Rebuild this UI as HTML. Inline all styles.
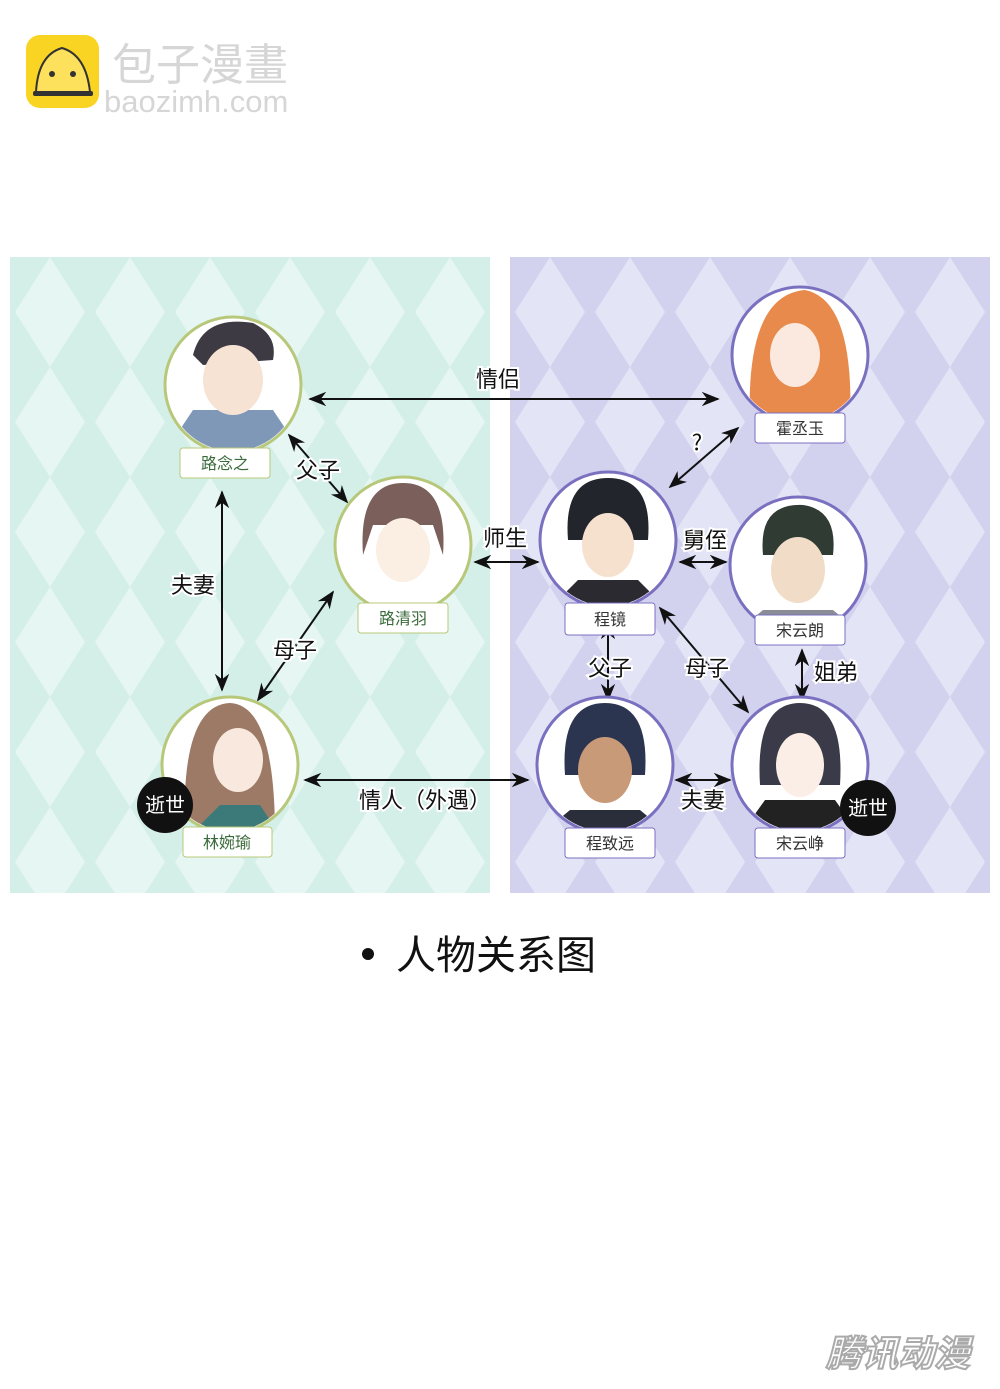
<!DOCTYPE html>
<html><head><meta charset="utf-8"><style>
body{margin:0;background:#fff;width:1000px;height:1389px;overflow:hidden;font-family:"Liberation Sans","Noto Sans CJK SC",sans-serif}
</style></head><body>
<svg width="1000" height="1389" xmlns="http://www.w3.org/2000/svg" style="display:block">
<defs>
<pattern id="pg" x="10" y="257" width="80" height="110" patternUnits="userSpaceOnUse">
<rect width="80" height="110" fill="#d4efe8"/>
<polygon points="40,0 75,55 40,110 5,55" fill="#e6f6f2"/>
</pattern>
<pattern id="pp" x="510" y="257" width="80" height="110" patternUnits="userSpaceOnUse">
<rect width="80" height="110" fill="#d2d2ef"/>
<polygon points="40,0 75,55 40,110 5,55" fill="#e4e4f7"/>
</pattern>
<marker id="a" viewBox="0 0 10 10" refX="9" refY="5" markerWidth="9" markerHeight="9" orient="auto-start-reverse"><path d="M0,1 L10,5 L0,9 L3,5z" fill="#111"/></marker>
<clipPath id="c"><circle r="66"/></clipPath>
</defs>
<!-- logo -->
<rect x="26" y="35" width="73" height="73" rx="14" fill="#f9d423"/>
<path d="M36,92 Q38,55 62,48 Q86,55 90,92 Z" fill="#fde15c" stroke="#333" stroke-width="2"/>
<rect x="33" y="91" width="60" height="5" rx="2" fill="#333"/>
<circle cx="52" cy="74" r="3" fill="#333"/><circle cx="73" cy="74" r="3" fill="#333"/>
<text x="112" y="80" font-size="44" fill="#d6d6d6" font-family="'Noto Sans CJK SC',sans-serif">包子漫畫</text>
<text x="104" y="112" font-size="31" fill="#d6d6d6">baozimh.com</text>
<!-- panels -->
<rect x="10" y="257" width="480" height="636" fill="url(#pg)"/>
<rect x="510" y="257" width="480" height="636" fill="url(#pp)"/>
<!-- arrows -->
<g stroke="#111" stroke-width="2" fill="none" marker-start="url(#a)" marker-end="url(#a)">
<line x1="310" y1="399" x2="718" y2="399"/>
<line x1="670" y1="487" x2="738" y2="428"/>
<line x1="289" y1="435" x2="347" y2="502"/>
<line x1="222" y1="492" x2="222" y2="690"/>
<line x1="258" y1="700" x2="333" y2="592"/>
<line x1="475" y1="562" x2="538" y2="562"/>
<line x1="680" y1="562" x2="726" y2="562"/>
<line x1="608" y1="623" x2="608" y2="700"/>
<line x1="660" y1="608" x2="748" y2="712"/>
<line x1="802" y1="650" x2="802" y2="700"/>
<line x1="305" y1="780" x2="528" y2="780"/>
<line x1="676" y1="780" x2="730" y2="780"/>
</g>
<!-- relation labels -->
<g font-size="22" fill="#111" stroke="#fff" stroke-width="4" paint-order="stroke" text-anchor="middle" font-family="'Noto Sans CJK SC',sans-serif">
<text x="498" y="387">情侣</text>
<text x="697" y="450">?</text>
<text x="318" y="478">父子</text>
<text x="193" y="593">夫妻</text>
<text x="295" y="658">母子</text>
<text x="505" y="546">师生</text>
<text x="705" y="548">舅侄</text>
<text x="610" y="676">父子</text>
<text x="707" y="676">母子</text>
<text x="836" y="680">姐弟</text>
<text x="425" y="808">情人（外遇）</text>
<text x="703" y="808">夫妻</text>
</g>
<!-- nodes -->
<g font-size="16" text-anchor="middle" font-family="'Noto Sans CJK SC',sans-serif">
<g transform="translate(233,385)"><circle r="68" fill="#fff" stroke="#b8c87a" stroke-width="3"/><g clip-path="url(#c)"><path d="M-40,-30 Q-30,-70 20,-62 Q45,-50 40,-25 L-30,-20z" fill="#3e3a44"/><path d="M-70,70 L-40,25 L40,25 L70,70z" fill="#7f98b8"/><ellipse cx="0" cy="-5" rx="30" ry="35" fill="#f6e3d3"/></g></g>
<rect x="180" y="448" width="90" height="30" rx="3" fill="#fff" stroke="#b8c87a"/><text x="225" y="469" fill="#3a6a3a">路念之</text>
<g transform="translate(403,545)"><circle r="68" fill="#fff" stroke="#b8c87a" stroke-width="3"/><g clip-path="url(#c)"><path d="M-40,10 Q-45,-62 0,-62 Q45,-62 40,10 L30,-20 L-30,-20z" fill="#7a5f5a"/><ellipse cx="0" cy="5" rx="27" ry="32" fill="#fbeee3"/></g></g>
<rect x="358" y="603" width="90" height="30" rx="3" fill="#fff" stroke="#b8c87a"/><text x="403" y="624" fill="#3a6a3a">路清羽</text>
<g transform="translate(230,765)"><circle r="68" fill="#fff" stroke="#b8c87a" stroke-width="3"/><g clip-path="url(#c)"><path d="M-45,70 Q-50,-60 0,-62 Q45,-60 45,70z" fill="#9c7a66"/><ellipse cx="8" cy="-5" rx="25" ry="32" fill="#f8e8dd"/><path d="M-40,70 L-10,40 L30,40 L50,70z" fill="#3b7a78"/></g></g>
<rect x="183" y="827" width="89" height="30" rx="3" fill="#fff" stroke="#b8c87a"/><text x="227" y="848" fill="#3a6a3a">林婉瑜</text>
<circle cx="165" cy="805" r="28" fill="#111"/><text x="165" y="812" font-size="20" fill="#fff">逝世</text>
<g transform="translate(800,355)"><circle r="68" fill="#fff" stroke="#7a70c0" stroke-width="3"/><g clip-path="url(#c)"><path d="M-50,70 Q-55,-60 5,-65 Q55,-55 50,70z" fill="#e88a4c"/><ellipse cx="-5" cy="0" rx="25" ry="32" fill="#fbe9df"/></g></g>
<rect x="755" y="413" width="90" height="30" rx="3" fill="#fff" stroke="#7a70c0"/><text x="800" y="434" fill="#333">霍丞玉</text>
<g transform="translate(608,540)"><circle r="68" fill="#fff" stroke="#7a70c0" stroke-width="3"/><g clip-path="url(#c)"><path d="M-40,0 Q-45,-62 0,-62 Q45,-62 40,0z" fill="#23252d"/><ellipse cx="0" cy="5" rx="26" ry="32" fill="#f6e1cf"/><path d="M-60,70 L-30,40 L30,40 L60,70z" fill="#2a2a30"/></g></g>
<rect x="565" y="603" width="90" height="32" rx="3" fill="#fff" stroke="#7a70c0"/><text x="610" y="625" fill="#333">程镜</text>
<g transform="translate(798,565)"><circle r="68" fill="#fff" stroke="#7a70c0" stroke-width="3"/><g clip-path="url(#c)"><path d="M-35,-10 Q-40,-62 5,-60 Q40,-55 35,-10z" fill="#2f3b33"/><ellipse cx="0" cy="5" rx="27" ry="33" fill="#f1dcc8"/><path d="M-65,70 L-35,45 L35,45 L65,70z" fill="#8a8d96"/></g></g>
<rect x="755" y="615" width="90" height="30" rx="3" fill="#fff" stroke="#7a70c0"/><text x="800" y="636" fill="#333">宋云朗</text>
<g transform="translate(605,765)"><circle r="68" fill="#fff" stroke="#7a70c0" stroke-width="3"/><g clip-path="url(#c)"><path d="M-40,10 Q-45,-62 0,-62 Q45,-62 40,10z" fill="#2c3550"/><ellipse cx="0" cy="5" rx="27" ry="33" fill="#c89a78"/><path d="M-65,70 L-35,45 L35,45 L65,70z" fill="#2a2d3a"/></g></g>
<rect x="565" y="828" width="90" height="30" rx="3" fill="#fff" stroke="#7a70c0"/><text x="610" y="849" fill="#333">程致远</text>
<g transform="translate(800,765)"><circle r="68" fill="#fff" stroke="#7a70c0" stroke-width="3"/><g clip-path="url(#c)"><path d="M-40,20 Q-45,-62 0,-62 Q45,-62 40,20z" fill="#3a3a48"/><ellipse cx="0" cy="0" rx="24" ry="32" fill="#fbeee6"/><path d="M-60,70 L-35,35 L35,35 L60,70z" fill="#222"/></g></g>
<rect x="755" y="828" width="90" height="30" rx="3" fill="#fff" stroke="#7a70c0"/><text x="800" y="849" fill="#333">宋云峥</text>
<circle cx="868" cy="808" r="28" fill="#111"/><text x="868" y="815" font-size="20" fill="#fff">逝世</text>
</g>
<!-- title -->
<circle cx="368" cy="954" r="6" fill="#111"/>
<text x="396" y="969" font-size="40" fill="#111" font-family="'Noto Sans CJK SC',sans-serif">人物关系图</text>
<!-- watermark -->
<text x="898" y="1366" font-size="36" font-style="italic" font-weight="bold" text-anchor="middle" fill="#fff" stroke="#aaa" stroke-width="2" font-family="'Noto Sans CJK SC',sans-serif">腾讯动漫</text>
</svg>
</body></html>
